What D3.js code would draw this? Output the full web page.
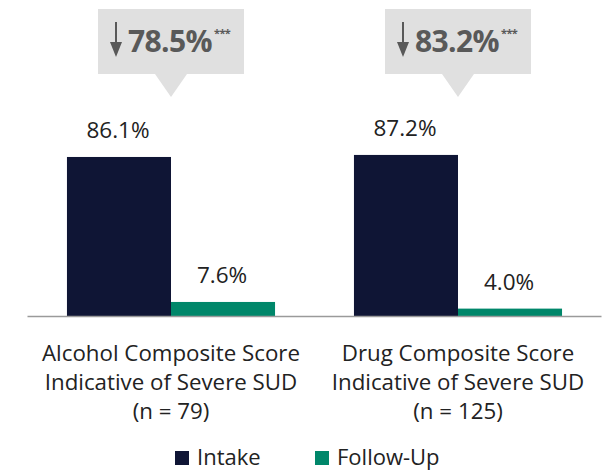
<!DOCTYPE html>
<html>
<head>
<meta charset="utf-8">
<script src="https://cdn.jsdelivr.net/npm/d3@7"></script>
<style>
  html, body { margin: 0; padding: 0; background: #fff; }
  svg text { font-family: "Open Sans", "Noto Sans", sans-serif; }
</style>
</head>
<body>
<svg id="chart" width="605" height="470"></svg>
<script>
// Categories (each label is split into lines)
const categories = ["Alcohol", "Drug"];
const categoryLines = [
  ["Alcohol Composite Score", "Indicative of Severe SUD", "(n = 79)"],
  ["Drug Composite Score", "Indicative of Severe SUD", "(n = 125)"]
];
const seriesNames = ["Intake", "Follow-Up"];
const intakeValues = [86.1, 87.2];
const followUpValues = [7.6, 4.0];
const changeValues = [78.5, 83.2];
const significance = ["***", "***"];
const colors = ["#0f1535", "#00876a"];

const svg = d3.select("#chart");

const x0 = d3.scaleBand()
  .domain(categories)
  .range([27.5, 601.5])
  .paddingInner(0.275)
  .paddingOuter(0.1375);

const x1 = d3.scaleBand()
  .domain(seriesNames)
  .range([0, x0.bandwidth()])
  .padding(0);

const y = d3.scaleLinear().domain([0, 100]).range([316, 131.3]);

const data = categories.map((c, i) => ({
  cat: c,
  values: [
    { s: seriesNames[0], v: intakeValues[i] },
    { s: seriesNames[1], v: followUpValues[i] }
  ]
}));

const color = d3.scaleOrdinal().domain(seriesNames).range(colors);

// Bars
const groups = svg.selectAll("g.group").data(data).join("g")
  .attr("class", "group")
  .attr("transform", d => `translate(${x0(d.cat)},0)`);

groups.selectAll("rect").data(d => d.values).join("rect")
  .attr("x", d => x1(d.s))
  .attr("width", x1.bandwidth())
  .attr("y", d => y(d.v))
  .attr("height", d => y(0) - y(d.v))
  .attr("fill", d => color(d.s));

// Value labels
groups.selectAll("text.val").data(d => d.values).join("text")
  .attr("class", "val")
  .attr("x", d => x1(d.s) + x1.bandwidth() / 2 - 1)
  .attr("y", d => y(d.v) - 19)
  .attr("text-anchor", "middle")
  .attr("font-size", 22.5)
  .attr("fill", "#222")
  .text(d => d.v.toFixed(1) + "%");

// Baseline
svg.append("line")
  .attr("x1", x0.range()[0]).attr("x2", x0.range()[1])
  .attr("y1", y(0) + 0.5).attr("y2", y(0) + 0.5)
  .attr("stroke", "#9a9a9a").attr("stroke-width", 1.5);

// Category labels
const catG = svg.selectAll("text.cat").data(categories).join("text")
  .attr("class", "cat")
  .attr("text-anchor", "middle")
  .attr("font-size", 22.3)
  .attr("fill", "#222");
catG.selectAll("tspan").data((d, i) => categoryLines[i]).join("tspan")
  .attr("x", function() { return x0(d3.select(this.parentNode).datum()) + x0.bandwidth() / 2; })
  .attr("y", (d, i) => 361 + i * 29)
  .text(d => d);

// Callouts showing percentage decrease
const callout = svg.selectAll("g.callout").data(categories).join("g")
  .attr("class", "callout")
  .attr("transform", d => `translate(${x0(d) + x0.bandwidth() / 2},0)`);

callout.append("path")
  .attr("d", "M-73,9 H73 V74 H16 L0,97 L-16,74 H-73 Z")
  .attr("fill", "#e0e0e0");

// down arrow
callout.append("line")
  .attr("x1", -55).attr("x2", -55).attr("y1", 22).attr("y2", 48)
  .attr("stroke", "#595959").attr("stroke-width", 2);
callout.append("path")
  .attr("d", "M-61,42 L-49,42 L-55,57 Z")
  .attr("fill", "#595959");

callout.append("text")
  .attr("x", -43)
  .attr("y", 52)
  .attr("font-size", 30)
  .attr("font-weight", "bold")
  .attr("letter-spacing", -0.6)
  .attr("fill", "#595959")
  .each(function(d, i) {
    const t = d3.select(this);
    t.append("tspan").text(changeValues[i].toFixed(1) + "%");
    t.append("tspan").attr("font-size", 11).attr("dx", 2).attr("dy", -15).text(significance[i]);
  });

// Legend
const legend = svg.selectAll("g.legend").data(seriesNames).join("g")
  .attr("class", "legend")
  .attr("transform", (d, i) => `translate(${175 + i * 140},451)`);
legend.append("rect").attr("width", 14).attr("height", 14).attr("fill", d => color(d));
legend.append("text")
  .attr("x", 22).attr("y", 13.5)
  .attr("font-size", 22).attr("fill", "#222")
  .text(d => d);
</script>
</body>
</html>
